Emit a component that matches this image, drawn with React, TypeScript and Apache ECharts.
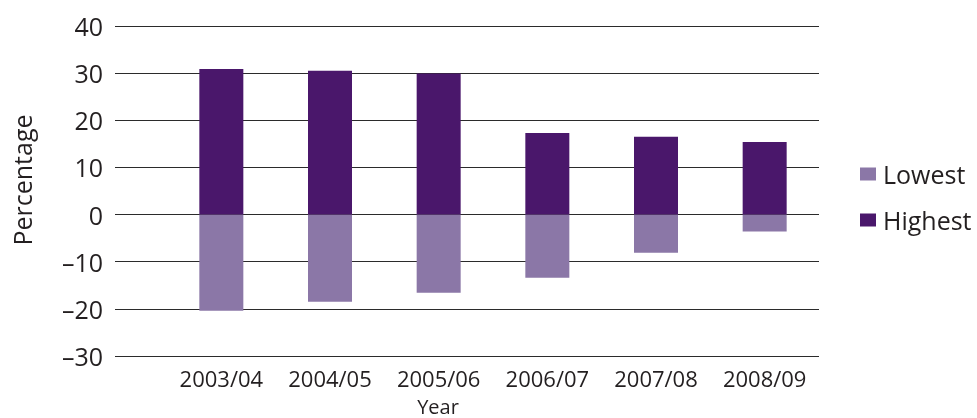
import React, { useEffect, useRef } from "react";
import * as echarts from "echarts";

const years = ["2003/04", "2004/05", "2005/06", "2006/07", "2007/08", "2008/09"];
const highest = [30.9, 30.5, 29.9, 17.3, 16.5, 15.4];
const lowest = [-20.4, -18.5, -16.6, -13.4, -8.1, -3.6];
const yMin = -30;
const yMax = 40;
const yStep = 10;

const FONT = "Open Sans";
const TEXT = "#231f20";
const DARK = "#4a176b";
const LIGHT = "#8b77a7";

export default function App() {
  const ref = useRef<HTMLDivElement>(null);
  useEffect(() => {
    if (!ref.current) return;
    const chart = echarts.init(ref.current, null, { renderer: "svg" });
    chart.setOption({
      animation: false,
      textStyle: { fontFamily: FONT, color: TEXT },
      grid: [
        { left: 115, right: 158, top: 26, bottom: 62 },
        { left: 167, right: 158, top: 26, bottom: 62 },
      ],
      xAxis: [
        { type: "value", gridIndex: 0, min: 0, max: 1, show: false },
        {
          type: "category",
          gridIndex: 1,
          data: years,
          axisLine: { show: false },
          axisTick: { show: false },
          axisLabel: { fontSize: 22, lineHeight: 22, color: TEXT, fontFamily: FONT, margin: 11, interval: 0 },
        },
      ],
      yAxis: [
        {
          type: "value",
          gridIndex: 0,
          min: yMin,
          max: yMax,
          interval: yStep,
          axisLine: { show: false },
          axisTick: { show: false },
          splitLine: { show: true, lineStyle: { color: "#2b2b2b", width: 1 } },
          axisLabel: {
            fontSize: 25,
            color: TEXT,
            fontFamily: FONT,
            margin: 12,
            formatter: (v: number) => (v < 0 ? "\u2013" + Math.abs(v) : String(v)),
          },
        },
        {
          type: "value",
          gridIndex: 1,
          min: yMin,
          max: yMax,
          interval: yStep,
          show: false,
          splitLine: { show: false },
        },
      ],
      legend: {
        orient: "vertical",
        left: 855,
        top: 155,
        data: ["Lowest", "Highest"],
        itemWidth: 16,
        itemHeight: 13,
        itemGap: 18,
        icon: "rect",
        textStyle: { fontSize: 25, color: TEXT, fontFamily: FONT, lineHeight: 28, padding: [0, 0, 0, 2] },
      },
      graphic: [
        {
          type: "text",
          x: 22,
          y: 180,
          rotation: Math.PI / 2,
          style: {
            text: "Percentage",
            fontSize: 25,
            fontFamily: FONT,
            fill: TEXT,
            align: "center",
            verticalAlign: "middle",
          },
        },
        {
          type: "text",
          x: 438,
          y: 406,
          style: {
            text: "Year",
            fontSize: 20,
            lineHeight: 20,
            fontFamily: FONT,
            fill: TEXT,
            align: "center",
            verticalAlign: "middle",
          },
        },
      ],
      series: [
        {
          name: "Lowest",
          type: "bar",
          xAxisIndex: 1,
          yAxisIndex: 1,
          stack: "total",
          barWidth: 44,
          data: lowest,
          itemStyle: { color: LIGHT },
        },
        {
          name: "Highest",
          type: "bar",
          xAxisIndex: 1,
          yAxisIndex: 1,
          stack: "total",
          barWidth: 44,
          data: highest,
          itemStyle: { color: DARK },
        },
      ],
    });
    return () => chart.dispose();
  }, []);
  return (
    <div
      ref={ref}
      style={{ position: "fixed", left: 0, top: 0, width: 977, height: 418 }}
    />
  );
}
